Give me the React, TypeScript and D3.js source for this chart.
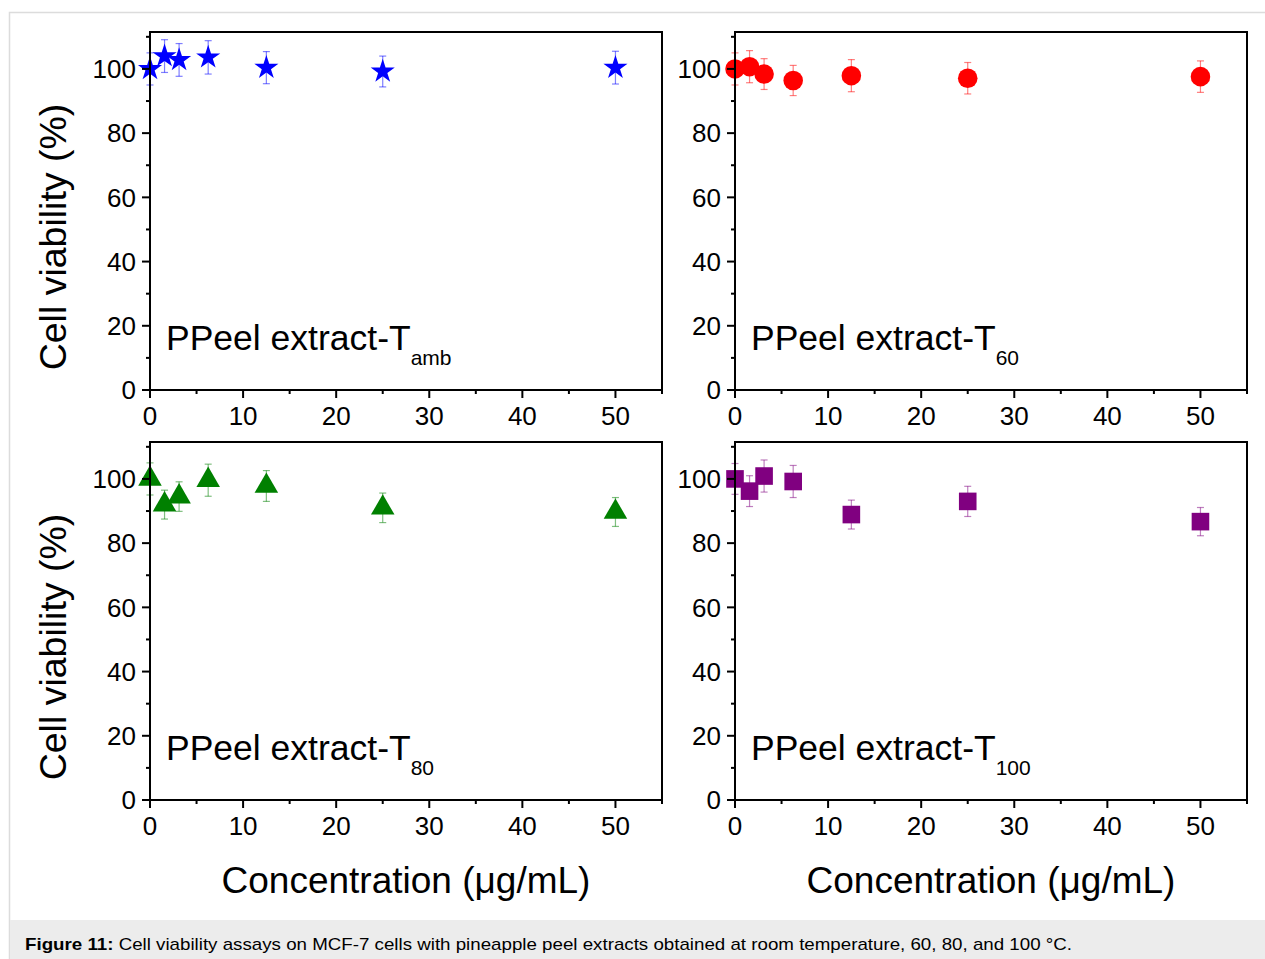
import React from "react";
import * as d3 from "d3";

// ---- data ----
const concentrations = [0, 1.5625, 3.125, 6.25, 12.5, 25, 50];
const tambValues = [100, 104.0, 102.8, 103.6, 100.4, 99.2, 100.4];
const tambErrors = [5, 5.1, 5.1, 5.2, 5, 4.8, 5.1];
const t60Values = [100, 100.7, 98.4, 96.4, 97.9, 97.1, 97.6];
const t60Errors = [5, 5, 4.8, 4.7, 5, 4.9, 4.9];
const t80Values = [100, 92.0, 94.5, 99.6, 97.8, 91.0, 89.7];
const t80Errors = [5, 4.5, 4.6, 5, 4.8, 4.6, 4.5];
const t100Values = [100, 96.2, 100.9, 99.2, 88.9, 93.0, 86.7];
const t100Errors = [4.8, 4.8, 5, 5, 4.5, 4.7, 4.4];

const xMajorTicks = [0, 10, 20, 30, 40, 50];
const xMinorTicks = [5, 15, 25, 35, 45, 55];
const yMajorTicks = [0, 20, 40, 60, 80, 100];
const yMinorTicks = [10, 30, 50, 70, 90, 110];

const subscripts = ["amb", "60", "80", "100"];
const yTitle = "Cell viability (%)";
const xTitle = "Concentration (\u03BCg/mL)";

const FONT = "Liberation Sans, Arial, Helvetica, sans-serif";

type PanelSpec = {
  values: number[];
  errors: number[];
  color: string;
  symbol: d3.SymbolType;
  size: number;
  sub: string;
  left: number;
  top: number;
};

const PW = 512;
const PH = 358;

const panels: PanelSpec[] = [
  { values: tambValues, errors: tambErrors, color: "#0000ff", symbol: d3.symbolStar, size: 180, sub: subscripts[0], left: 150, top: 32 },
  { values: t60Values, errors: t60Errors, color: "#ff0000", symbol: d3.symbolCircle, size: 300, sub: subscripts[1], left: 735, top: 32 },
  { values: t80Values, errors: t80Errors, color: "#008000", symbol: d3.symbolTriangle, size: 240, sub: subscripts[2], left: 150, top: 442 },
  { values: t100Values, errors: t100Errors, color: "#800080", symbol: d3.symbolSquare, size: 310, sub: subscripts[3], left: 735, top: 442 },
];

function Panel({ p }: { p: PanelSpec }) {
  const x = d3.scaleLinear().domain([0, 55]).range([0, PW]);
  const y = d3.scaleLinear().domain([0, 111.5]).range([PH, 0]);
  const sym = d3.symbol().type(p.symbol).size(p.size)();
  return (
    <g transform={`translate(${p.left},${p.top})`}>
      {/* error bars */}
      {concentrations.map((c, i) => {
        const cx = x(c);
        const y1 = y(p.values[i] + p.errors[i]);
        const y2 = y(p.values[i] - p.errors[i]);
        return (
          <g key={"e" + i} stroke={p.color} strokeOpacity={0.5} strokeWidth={1.2}>
            <line x1={cx} x2={cx} y1={y1} y2={y2} />
            <line x1={cx - 3.5} x2={cx + 3.5} y1={y1} y2={y1} />
            <line x1={cx - 3.5} x2={cx + 3.5} y1={y2} y2={y2} />
          </g>
        );
      })}
      {/* markers */}
      {concentrations.map((c, i) => (
        <path
          key={"m" + i}
          d={sym || ""}
          transform={`translate(${x(c)},${y(p.values[i])})`}
          fill={p.color}
        />
      ))}
      {/* frame */}
      <rect x={0} y={0} width={PW} height={PH} fill="none" stroke="#000" strokeWidth={2} />
      {/* x ticks */}
      {xMajorTicks.map((t) => (
        <g key={"xt" + t}>
          <line x1={x(t)} x2={x(t)} y1={PH} y2={PH + 8} stroke="#000" strokeWidth={2} />
          <text x={x(t)} y={PH + 35} textAnchor="middle" fontSize={26} fontFamily={FONT}>
            {t}
          </text>
        </g>
      ))}
      {xMinorTicks.map((t) => (
        <line key={"xm" + t} x1={x(t)} x2={x(t)} y1={PH} y2={PH + 4} stroke="#000" strokeWidth={2} />
      ))}
      {/* y ticks */}
      {yMajorTicks.map((t) => (
        <g key={"yt" + t}>
          <line x1={-8} x2={0} y1={y(t)} y2={y(t)} stroke="#000" strokeWidth={2} />
          <text x={-14} y={y(t) + 9.3} textAnchor="end" fontSize={26} fontFamily={FONT}>
            {t}
          </text>
        </g>
      ))}
      {yMinorTicks.map((t) => (
        <line key={"ym" + t} x1={-4} x2={0} y1={y(t)} y2={y(t)} stroke="#000" strokeWidth={2} />
      ))}
      {/* label */}
      <text x={16} y={PH - 40} fontSize={35.5} fontFamily={FONT}>
        PPeel extract-T
        <tspan fontSize={21} dy={15}>{p.sub}</tspan>
      </text>
    </g>
  );
}

export default function App() {
  return (
    <div style={{ position: "absolute", left: 0, top: 0 }}>
      <svg width={1265} height={959} style={{ display: "block", background: "#fff" }}>
        <rect x={9.5} y={12.5} width={1270} height={960} fill="#fff" stroke="#dcdcdc" strokeWidth={1.5} />
        <rect x={10} y={920} width={1260} height={40} fill="#ececec" />
        {panels.map((p, i) => (
          <Panel key={i} p={p} />
        ))}
        {/* y titles */}
        {[211, 621].map((cy, i) => (
          <text
            key={"yt" + i}
            transform={`translate(66,${cy + 26}) rotate(-90)`}
            textAnchor="middle"
            fontSize={37.5}
            fontFamily={FONT}
          >
            {yTitle}
          </text>
        ))}
        {/* x titles */}
        {[406, 991].map((cx, i) => (
          <text key={"xtt" + i} x={cx} y={893} textAnchor="middle" fontSize={37} fontFamily={FONT}>
            {xTitle}
          </text>
        ))}
        <text x={25} y={950} fontSize={17} fontFamily={FONT} fill="#000" textLength={1047} lengthAdjust="spacingAndGlyphs">
          <tspan fontWeight="bold">Figure 11:</tspan> Cell viability assays on MCF-7 cells with pineapple peel extracts obtained at room temperature, 60, 80, and 100 °C.
        </text>
      </svg>
    </div>
  );
}
